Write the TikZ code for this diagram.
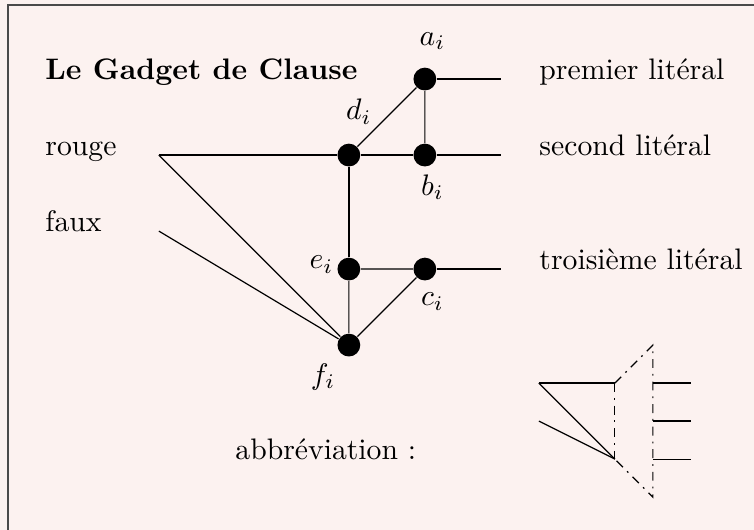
\documentclass[tikz,border=0pt]{standalone}
\usepackage{fontspec}
\usepackage{tikz}
\usetikzlibrary{positioning}
\definecolor{fondrose}{HTML}{FCF2F0}
\definecolor{cadre}{HTML}{4A4A4A}

\begin{document}
\begin{tikzpicture}[x=0.9cm, y=0.9cm,
    sommet/.style={circle, fill=black, inner sep=0pt, minimum size=0.27cm},
    txt/.style={inner sep=0pt, anchor=base west},
    tiret/.style={dash pattern=on 3pt off 2pt on 0.6pt off 2pt},
]
    % fond et cadre
    \fill[fondrose] (-4.59, -2.43) rectangle (5.33, 4.54);
    \useasboundingbox (-4.59, -2.43) rectangle (5.33, 4.54);
    \begin{scope}
    \clip (-4.59, -2.43) rectangle (5.33, 4.54);
    \draw[cadre, line width=0.7pt] (-4.48, -3) rectangle (6, 4.48);
    \end{scope}

    \node[txt, font=\bfseries] (titre) at (-4, 3.5) {Le Gadget de Clause};
    \node[txt] (rouge) at (-4, 2.5) {rouge};
    \node[txt] (faux) at (-4, 1.5) {faux};

    % sommets du gadget
    \node[sommet] (a) at (1, 3.5) {};
    \node[sommet] (b) at (1, 2.5) {};
    \node[sommet] (c) at (1, 1) {};
    \node[sommet] (d) at (0, 2.5) {};
    \node[sommet] (e) at (0, 1) {};
    \node[sommet] (f) at (0, 0) {};

    \node (la) at (1.1, 4.0) {$a_i$};
    \node (lb) at (1.1, 2.08) {$b_i$};
    \node (lc) at (1.1, 0.57) {$c_i$};
    \node (ld) at (0.13, 3.07) {$d_i$};
    \node (le) at (-0.36, 1.06) {$e_i$};
    \node (lf) at (-0.34, -0.42) {$f_i$};

    % entrees
    \coordinate (r) at (-2.5, 2.5);
    \coordinate (x) at (-2.5, 1.5);
    \draw (r) -- (d) -- (b);
    \draw (r) -- (f);
    \draw (x) -- (f);

    \draw (d) -- (a) -- (b);
    \draw[semithick] (d) -- (e);
    \draw (e) -- (f) -- (c) -- (e);

    % sorties vers les literaux
    \coordinate (sa) at (2, 3.5);
    \coordinate (sb) at (2, 2.5);
    \coordinate (sc) at (2, 1);
    \draw (a) -- (sa);
    \draw (b) -- (sb);
    \draw (c) -- (sc);
    \node[txt] (l1) at (2.5, 3.5) {premier litéral};
    \node[txt] (l2) at (2.5, 2.5) {second litéral};
    \node[txt] (l3) at (2.5, 1) {troisième litéral};

    % abreviation
    \node[txt] (abbr) at (-1.5, -1.5) {abbréviation :};
    \coordinate (p1) at (2.5, -0.5);
    \coordinate (p2) at (2.5, -1);
    \coordinate (q1) at (3.5, -0.5);
    \coordinate (q2) at (3.5, -1.5);
    \coordinate (h) at (4, 0);
    \coordinate (k) at (4, -2);
    \draw (p1) -- (q1);
    \draw (p1) -- (q2);
    \draw (p2) -- (q2);
    \draw[tiret] (q1) -- (q2);
    \draw[tiret] (q1) -- (h) -- (k) -- (q2);
    \foreach \y in {-0.5, -1, -1.5}
        \draw (4, \y) -- (4.5, \y);
\end{tikzpicture}
\end{document}
